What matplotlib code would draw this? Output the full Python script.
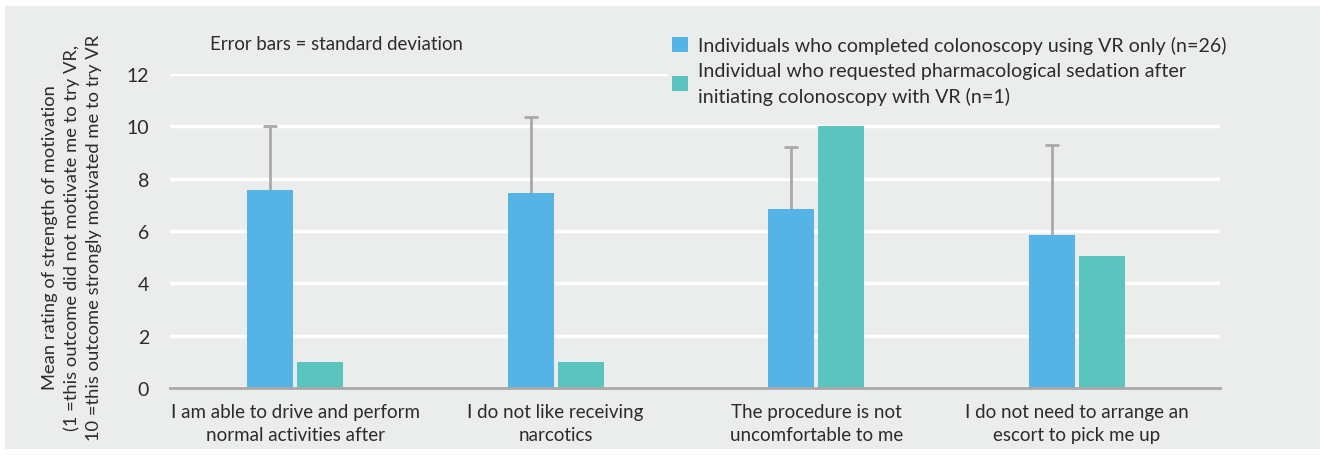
import numpy as np
import matplotlib.pyplot as plt
from matplotlib.patches import Rectangle, Patch

# DATA
categories = [
    "I am able to drive and perform\nnormal activities after",
    "I do not like receiving\nnarcotics",
    "The procedure is not\nuncomfortable to me",
    "I do not need to arrange an\nescort to pick me up",
]
vr_only = [7.55, 7.45, 6.85, 5.85]
vr_only_sd = [2.45, 2.9, 2.35, 3.45]
sedation = [1.0, 1.0, 10.0, 5.05]
series_names = [
    "Individuals who completed colonoscopy using VR only (n=26)",
    "Individual who requested pharmacological sedation after\ninitiating colonoscopy with VR (n=1)",
]
y_title = ("Mean rating of strength of motivation\n"
           "(1 =this outcome did not motivate me to try VR,\n"
           "10 =this outcome strongly motivated me to try VR")

BLUE = "#55B4E5"
GREEN = "#5BC4BF"
BG = "#EBECEC"
TXT = "#2B2B2B"
fam = ["Lato", "DejaVu Sans"]

fig = plt.figure(figsize=(13.2, 4.64), dpi=100)
fig.patch.set_facecolor("white")
fig.patches.append(Rectangle((5 / 1320, 14 / 464), 1 - 5 / 1320, 443 / 464,
                             transform=fig.transFigure, facecolor=BG,
                             edgecolor="none", zorder=-10))

ax = fig.add_axes([170 / 1320, 75 / 464, 1050 / 1320, 314 / 464])
ax.set_zorder(1)
ax.patch.set_alpha(0)

x = np.arange(len(categories))
w = 0.176
off = 0.096
bars = ax.bar(x - off, vr_only, w, color=BLUE, zorder=3,
              yerr=[np.zeros(len(vr_only)), vr_only_sd],
              error_kw=dict(ecolor="#A9A9A9", elinewidth=2, capsize=5, capthick=2, zorder=2))
# only the upper cap is shown in the original
bars.errorbar.lines[1][0].set_visible(False)
ax.bar(x + off, sedation, w, color=GREEN, zorder=3)

ax.set_xlim(-0.48, 3.55)
ax.set_ylim(0, 12)
ax.set_yticks([0, 2, 4, 6, 8, 10, 12])
ax.yaxis.grid(True, color="white", linewidth=2.5, zorder=0)
ax.set_axisbelow(True)
for s in ["top", "right", "left"]:
    ax.spines[s].set_visible(False)
ax.spines["bottom"].set_color("#A8A8A8")
ax.spines["bottom"].set_linewidth(2)
ax.spines["bottom"].set_zorder(4)

ax.set_xticks(x)
ax.set_xticklabels(categories, family=fam, fontsize=13.5, color=TXT, linespacing=1.4)
ax.tick_params(axis="x", length=0, pad=11)
ax.tick_params(axis="y", length=0, pad=15, labelsize=14, labelcolor=TXT)
for t in ax.get_yticklabels():
    t.set_family(fam)

fig.text(72 / 1320, 1 - 238 / 464, y_title, family=fam, fontsize=13.2, color=TXT,
         rotation=90, ha="center", va="center", multialignment="center", linespacing=1.42)

fig.text(210 / 1320, 1 - 45 / 464, "Error bars = standard deviation", family=fam,
         fontsize=13.4, color=TXT, va="center", ha="left")

handles = [Patch(facecolor=BLUE), Patch(facecolor=GREEN)]
leg = fig.legend(handles, series_names, loc="upper left",
                 bbox_to_anchor=(668 / 1320, 1 - 33 / 464),
                 prop={"family": fam, "size": 14.1}, frameon=True,
                 facecolor=BG, edgecolor="none", framealpha=1,
                 handlelength=0.8, handleheight=0.8, handletextpad=0.55,
                 labelspacing=0.42, borderpad=0.2, borderaxespad=0)
leg.set_zorder(5)
for t in leg.get_texts():
    t.set_color(TXT)
    t.set_linespacing(1.5)

fig.savefig("out.png", dpi=100, facecolor=fig.get_facecolor())
